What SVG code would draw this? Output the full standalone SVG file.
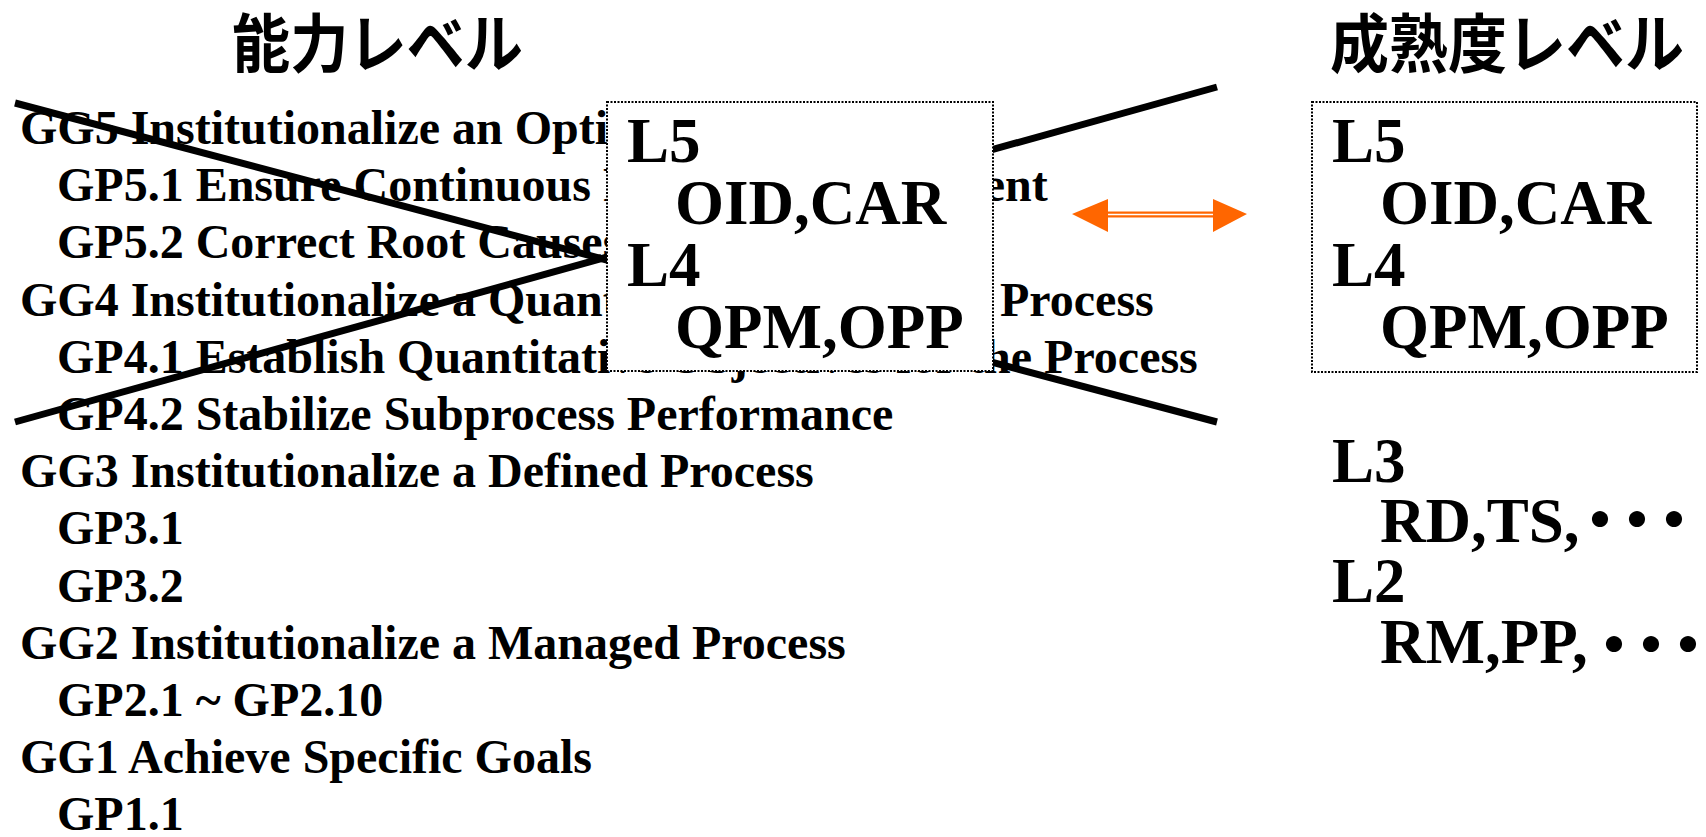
<svg xmlns="http://www.w3.org/2000/svg" width="1706" height="837" viewBox="0 0 1706 837">
  <style>
    .title { font-family: "Noto Sans CJK JP", "Noto Sans CJK SC", sans-serif; font-weight: bold; font-size: 64px; fill: #000; }
    .item { font-family: "Liberation Serif", "Times New Roman", serif; font-weight: bold; font-size: 48px; fill: #000; }
    .lvl { font-family: "Liberation Serif", "Times New Roman", serif; font-weight: bold; font-size: 63px; fill: #000; }
    .dots { font-family: "Noto Sans CJK JP", sans-serif; font-weight: bold; }
    .box { fill: #fff; stroke: #000; stroke-width: 2; stroke-dasharray: 2 1.5; }
    .cross { stroke: #000; stroke-width: 7; fill: none; }
  </style>
  <rect x="0" y="0" width="1706" height="837" fill="#fff"/>

  <g id="capability-title">
    <text class="title" x="232" y="67" textLength="291" lengthAdjust="spacingAndGlyphs">能力レベル</text>
  </g>

  <g id="capability-list">
    <text class="item" x="20" y="144">GG5 Institutionalize an Optimizing Process</text>
    <text class="item" x="57" y="201.2">GP5.1 Ensure Continuous Process Improvement</text>
    <text class="item" x="57" y="258.4">GP5.2 Correct Root Causes of Problems</text>
    <text class="item" x="20" y="315.6">GG4 Institutionalize a Quantitatively Managed Process</text>
    <text class="item" x="57" y="372.8">GP4.1 Establish Quantitative Objectives for the Process</text>
    <text class="item" x="57" y="430">GP4.2 Stabilize Subprocess Performance</text>
    <text class="item" x="20" y="487.2">GG3 Institutionalize a Defined Process</text>
    <text class="item" x="57" y="544.4">GP3.1</text>
    <text class="item" x="57" y="601.6">GP3.2</text>
    <text class="item" x="20" y="658.8">GG2 Institutionalize a Managed Process</text>
    <text class="item" x="57" y="716">GP2.1 ~ GP2.10</text>
    <text class="item" x="20" y="773.2">GG1 Achieve Specific Goals</text>
    <text class="item" x="57" y="830.4">GP1.1</text>
  </g>

  <g id="connectors">
    <line class="cross" x1="15" y1="103" x2="1217" y2="422"/>
    <line class="cross" x1="15" y1="422" x2="1217" y2="87"/>
    <g id="double-arrow">
      <path d="M1072,214 L1108,199 L1108,211.5 L1213,211.5 L1213,199 L1247,214 L1213,232 L1213,217.5 L1108,217.5 L1108,232 Z" fill="#FF6600"/>
      <line x1="1108" y1="214.5" x2="1213" y2="214.5" stroke="#fff" stroke-width="1.4"/>
    </g>
  </g>

  <g id="capability-box">
    <rect class="box" x="607" y="102" width="386" height="269"/>
    <text class="lvl" x="627" y="162">L5</text>
    <text class="lvl" x="675" y="224">OID,CAR</text>
    <text class="lvl" x="627" y="286">L4</text>
    <text class="lvl" x="675" y="348">QPM,OPP</text>
  </g>

  <g id="maturity-title">
    <text class="title" x="1330" y="67" textLength="354" lengthAdjust="spacingAndGlyphs">成熟度レベル</text>
  </g>

  <g id="maturity-box">
    <rect class="box" x="1312" y="102" width="385" height="270"/>
    <text class="lvl" x="1332" y="162">L5</text>
    <text class="lvl" x="1380" y="224">OID,CAR</text>
    <text class="lvl" x="1332" y="286">L4</text>
    <text class="lvl" x="1380" y="348">QPM,OPP</text>
  </g>

  <g id="maturity-lower">
    <text class="lvl" x="1332" y="482">L3</text>
    <text class="lvl" x="1380" y="542">RD,TS,<tspan class="dots" x="1568.5 1605.5 1642.5" y="542">・・・</tspan></text>
    <text class="lvl" x="1332" y="602">L2</text>
    <text class="lvl" x="1380" y="663">RM,PP,<tspan class="dots" x="1582.5 1619.5 1656.5" y="667">・・・</tspan></text>
  </g>
</svg>
